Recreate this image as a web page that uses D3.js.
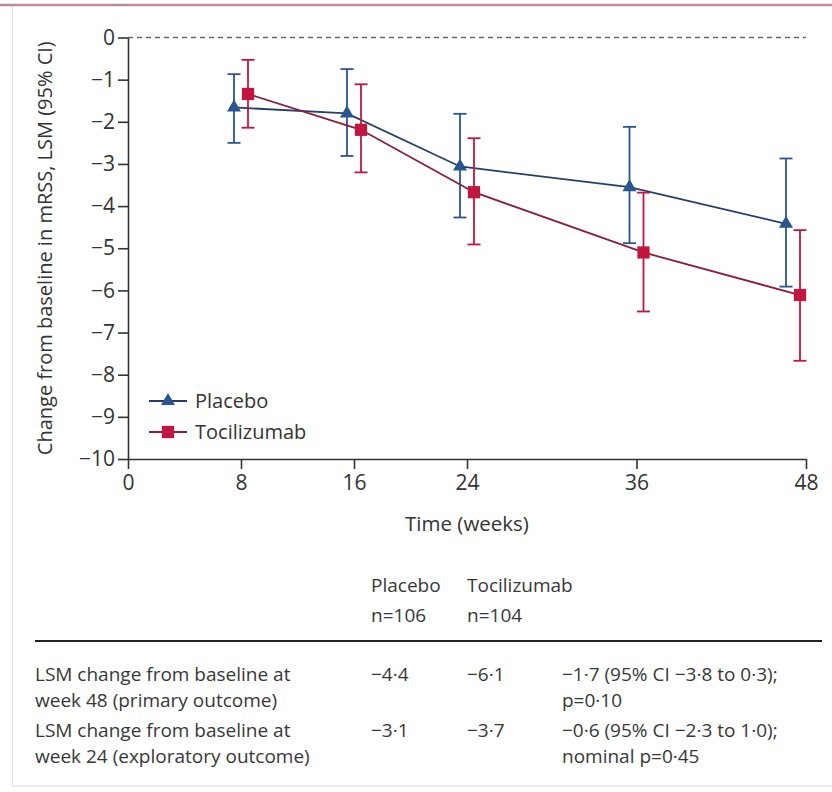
<html>
<head>
    <script src="https://d3js.org/d3.v7.min.js" charset="utf-8"></script>
    <style>
        body { margin: 0; background: #fff; }
        .axis path, .axis line { fill: none; stroke: #333; stroke-width: 1.6; }
        .axis text { font-family: "Open Sans", sans-serif; font-size: 21px; fill: #333; }
        .label { font-family: "Open Sans", sans-serif; font-size: 20.5px; fill: #333; }
        .ylabel { font-family: "Open Sans", sans-serif; font-size: 20px; fill: #333; }
        .legend { font-family: "Open Sans", sans-serif; font-size: 20px; fill: #333; }
        .table { font-family: "Open Sans", sans-serif; font-size: 19px; fill: #383838; }
    </style>
</head>
<body>
<div id="vis"></div>
<script>
    // weeks at which mRSS was assessed
    const weeks = [8, 16, 24, 36, 48];

    // LSM change from baseline and 95% CI
    const placeboMean = [-1.66, -1.80, -3.06, -3.55, -4.42];
    const placeboLow  = [-2.50, -2.81, -4.27, -4.88, -5.91];
    const placeboHigh = [-0.87, -0.75, -1.81, -2.12, -2.87];

    const tociMean = [-1.34, -2.19, -3.67, -5.10, -6.11];
    const tociLow  = [-2.14, -3.20, -4.91, -6.50, -7.67];
    const tociHigh = [-0.53, -1.11, -2.39, -3.68, -4.57];

    const xTicks = [0, 8, 16, 24, 36, 48];
    const yTicks = [0, -1, -2, -3, -4, -5, -6, -7, -8, -9, -10];

    // table under the chart
    const tableHeader = [["Placebo", "n=106"], ["Tocilizumab", "n=104"]];
    const tableRows = [
        {label: ["LSM change from baseline at", "week 48 (primary outcome)"], placebo: "−4·4", toci: "−6·1",
         diff: ["−1·7 (95% CI −3·8 to 0·3);", "p=0·10"]},
        {label: ["LSM change from baseline at", "week 24 (exploratory outcome)"], placebo: "−3·1", toci: "−3·7",
         diff: ["−0·6 (95% CI −2·3 to 1·0);", "nominal p=0·45"]}
    ];

    const width = 832, height = 792;
    const plotLeft = 128, plotRight = 806, plotTop = 37.5, plotBottom = 459;

    const svg = d3.select("#vis").append("svg")
        .attr("width", width)
        .attr("height", height);

    // panel frame
    svg.append("rect")
        .attr("x", 12.5).attr("y", 5).attr("width", width).attr("height", 781)
        .attr("fill", "none").attr("stroke", "#e2dade").attr("stroke-width", 1);
    svg.append("line")
        .attr("x1", 0).attr("x2", width).attr("y1", 5).attr("y2", 5)
        .attr("stroke", "#b88a9c").attr("stroke-width", 2.5);

    const x = d3.scaleLinear().domain([0, 48]).range([plotLeft, plotRight]);
    const y = d3.scaleLinear().domain([0, -10]).range([plotTop, plotBottom]);

    // dashed zero line
    svg.append("line")
        .attr("x1", x(0)).attr("x2", x(48))
        .attr("y1", y(0)).attr("y2", y(0))
        .attr("stroke", "#666").attr("stroke-width", 1.5)
        .attr("stroke-dasharray", "5,4");

    svg.append("g")
        .attr("class", "axis")
        .attr("transform", "translate(" + plotLeft + ",0)")
        .call(d3.axisLeft(y).tickValues(yTicks).tickSize(10).tickSizeOuter(0).tickPadding(3));

    svg.append("g")
        .attr("class", "axis")
        .attr("transform", "translate(0," + plotBottom + ")")
        .call(d3.axisBottom(x).tickValues(xTicks).tickSize(10).tickSizeOuter(0).tickPadding(6));

    svg.append("text")
        .attr("class", "label")
        .attr("x", (plotLeft + plotRight) / 2)
        .attr("y", 531)
        .attr("text-anchor", "middle")
        .text("Time (weeks)");

    svg.append("text")
        .attr("class", "ylabel")
        .attr("transform", "rotate(-90)")
        .attr("x", -(plotTop + plotBottom) / 2)
        .attr("y", 52)
        .attr("text-anchor", "middle")
        .text("Change from baseline in mRSS, LSM (95% CI)");

    // points are dodged either side of the week; last pair pulled back inside the axis
    function px(i, dodge) {
        let c = x(weeks[i]);
        if (i === weeks.length - 1) c -= 13;
        return c + dodge;
    }

    const series = [
        {name: "Placebo", mean: placeboMean, low: placeboLow, high: placeboHigh,
         color: "#2a558f", line: "#223f6e", dodge: -7, symbol: d3.symbolTriangle, size: 85},
        {name: "Tocilizumab", mean: tociMean, low: tociLow, high: tociHigh,
         color: "#c2163f", line: "#8e1c39", dodge: 7, symbol: d3.symbolSquare, size: 150}
    ];

    series.forEach(function(s) {
        let pts = weeks.map(function(w, i) {
            return {x: px(i, s.dodge), m: s.mean[i], lo: s.low[i], hi: s.high[i]};
        });
        let g = svg.append("g");

        g.append("path")
            .datum(pts)
            .attr("fill", "none")
            .attr("stroke", s.line)
            .attr("stroke-width", 1.8)
            .attr("d", d3.line().x(d => d.x).y(d => y(d.m)));

        let bars = g.selectAll(".bar").data(pts).enter().append("g");
        bars.append("line")
            .attr("x1", d => d.x).attr("x2", d => d.x)
            .attr("y1", d => y(d.lo)).attr("y2", d => y(d.hi))
            .attr("stroke", s.color).attr("stroke-width", 1.8);
        bars.append("line")
            .attr("x1", d => d.x - 6.5).attr("x2", d => d.x + 6.5)
            .attr("y1", d => y(d.lo)).attr("y2", d => y(d.lo))
            .attr("stroke", s.color).attr("stroke-width", 1.8);
        bars.append("line")
            .attr("x1", d => d.x - 6.5).attr("x2", d => d.x + 6.5)
            .attr("y1", d => y(d.hi)).attr("y2", d => y(d.hi))
            .attr("stroke", s.color).attr("stroke-width", 1.8);

        g.selectAll(".mark").data(pts).enter().append("path")
            .attr("transform", d => "translate(" + d.x + "," + y(d.m) + ")")
            .attr("d", d3.symbol(s.symbol, s.size))
            .attr("fill", s.color);
    });

    // legend
    series.forEach(function(s, i) {
        let ly = 401 + i * 31;
        svg.append("line")
            .attr("x1", 149).attr("x2", 187).attr("y1", ly).attr("y2", ly)
            .attr("stroke", s.line).attr("stroke-width", 1.8);
        svg.append("path")
            .attr("transform", "translate(168," + ly + ")")
            .attr("d", d3.symbol(s.symbol, s.size))
            .attr("fill", s.color);
        svg.append("text")
            .attr("class", "legend")
            .attr("x", 195).attr("y", ly + 7)
            .text(s.name);
    });

    // table
    const colX = [371, 467];
    tableHeader.forEach(function(h, i) {
        h.forEach(function(t, j) {
            svg.append("text").attr("class", "table")
                .attr("x", colX[i]).attr("y", 592 + j * 30)
                .text(t);
        });
    });

    svg.append("line")
        .attr("x1", 35).attr("x2", 822).attr("y1", 641).attr("y2", 641)
        .attr("stroke", "#222").attr("stroke-width", 2);

    tableRows.forEach(function(r, i) {
        let y0 = 681 + i * 56;
        r.label.forEach(function(t, j) {
            svg.append("text").attr("class", "table")
                .attr("x", 35).attr("y", y0 + j * 26).text(t);
        });
        svg.append("text").attr("class", "table").attr("x", colX[0]).attr("y", y0).text(r.placebo);
        svg.append("text").attr("class", "table").attr("x", colX[1]).attr("y", y0).text(r.toci);
        r.diff.forEach(function(t, j) {
            svg.append("text").attr("class", "table")
                .attr("x", 562).attr("y", y0 + j * 26).text(t);
        });
    });
</script>
</body>
</html>
